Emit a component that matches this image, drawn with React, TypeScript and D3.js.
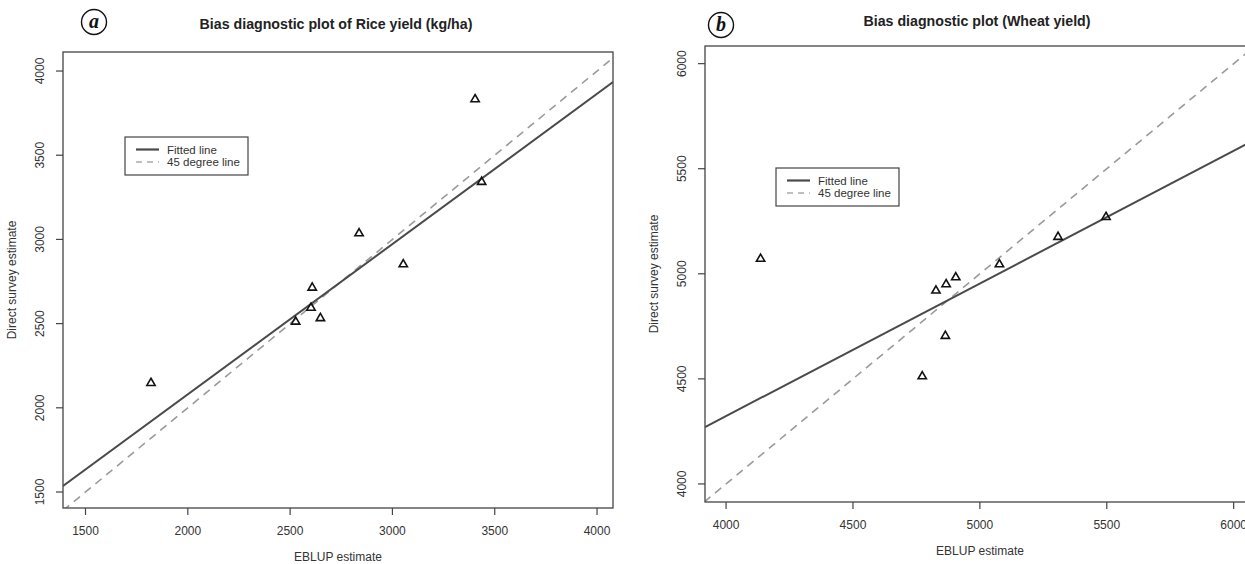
import React from 'react';
import * as d3 from 'd3';

// Rice yield (kg/ha) – EBLUP vs direct survey estimate
const riceEblup = [1820, 2527, 2602, 2608, 2648, 2837, 3053, 3404, 3436];
const riceDirect = [2147, 2511, 2594, 2713, 2532, 3036, 2852, 3832, 3341];
const riceFit = { intercept: 295, slope: 0.8925 };
const riceTicks = [1500, 2000, 2500, 3000, 3500, 4000];

// Wheat yield
const wheatEblup = [4136, 5077, 4905, 4867, 4827, 4864, 4773, 5308, 5497];
const wheatDirect = [5071, 5045, 4983, 4950, 4920, 4704, 4512, 5175, 5270];
const wheatFit = { intercept: 1799, slope: 0.631 };
const wheatTicks = [4000, 4500, 5000, 5500, 6000];

const font = "'Liberation Sans', Arial, sans-serif";

type PanelProps = {
  id: string;
  letter: string;
  title: string;
  xs: number[];
  ys: number[];
  fit: { intercept: number; slope: number };
  ticks: number[];
  xDomain: [number, number];
  yDomain: [number, number];
  box: { left: number; right: number; top: number; bottom: number };
  letterPos: [number, number];
  titleX: number;
  titleY: number;
  legend: [number, number];
};

function Panel(p: PanelProps) {
  const { left, right, top, bottom } = p.box;
  const x = d3.scaleLinear().domain(p.xDomain).range([left, right]);
  const y = d3.scaleLinear().domain(p.yDomain).range([bottom, top]);
  const lineGen = d3
    .line<number>()
    .x((d) => x(d))
    .y((d) => y(p.fit.intercept + p.fit.slope * d));
  const diagGen = d3
    .line<number>()
    .x((d) => x(d))
    .y((d) => y(d));
  const lo = Math.min(p.xDomain[0], p.yDomain[0]);
  const hi = Math.max(p.xDomain[1], p.yDomain[1]);
  const tri = d3.symbol().type(d3.symbolTriangle).size(30)();
  const [lx, ly] = p.legend;

  return (
    <g>
      <defs>
        <clipPath id={'clip-' + p.id}>
          <rect x={left} y={top} width={right - left} height={bottom - top} />
        </clipPath>
      </defs>
      <circle cx={p.letterPos[0]} cy={p.letterPos[1]} r={12.5} fill="none" stroke="#111" strokeWidth={1.4} />
      <text
        x={p.letterPos[0]}
        y={p.letterPos[1] + 6}
        textAnchor="middle"
        fontFamily="'Liberation Serif', 'Times New Roman', serif"
        fontStyle="italic"
        fontWeight="bold"
        fontSize={20}
        fill="#111"
      >
        {p.letter}
      </text>
      <text x={p.titleX} y={p.titleY} textAnchor="middle" fontFamily={font} fontWeight="bold" fontSize={14.2} fill="#222">
        {p.title}
      </text>

      <g clipPath={`url(#clip-${p.id})`}>
        <path d={diagGen([lo, hi]) || ''} fill="none" stroke="#9a9a9a" strokeWidth={1.6} strokeDasharray="8,6" />
        <path d={lineGen([p.xDomain[0], p.xDomain[1]]) || ''} fill="none" stroke="#4a4a4a" strokeWidth={2} />
        {p.xs.map((v, i) => (
          <path key={i} d={tri || ''} transform={`translate(${x(v)},${y(p.ys[i])})`} fill="none" stroke="#111" strokeWidth={1.6} />
        ))}
      </g>

      <rect x={left} y={top} width={right - left} height={bottom - top} fill="none" stroke="#444" strokeWidth={1.3} />

      {p.ticks.map((t) => (
        <g key={'x' + t}>
          <line x1={x(t)} x2={x(t)} y1={bottom} y2={bottom + 7} stroke="#444" strokeWidth={1.2} />
          <text x={x(t)} y={bottom + 27} textAnchor="middle" fontFamily={font} fontSize={12} fill="#333">
            {t}
          </text>
        </g>
      ))}
      {p.ticks.map((t) => (
        <g key={'y' + t}>
          <line x1={left - 7} x2={left} y1={y(t)} y2={y(t)} stroke="#444" strokeWidth={1.2} />
          <text
            transform={`translate(${left - 19},${y(t)}) rotate(-90)`}
            textAnchor="middle"
            fontFamily={font}
            fontSize={12}
            fill="#333"
          >
            {t}
          </text>
        </g>
      ))}
      <text x={(left + Math.min(right, 1245)) / 2 + (right > 1245 ? 5 : 0)} y={bottom + 53} textAnchor="middle" fontFamily={font} fontSize={12} fill="#333">
        EBLUP estimate
      </text>
      <text
        transform={`translate(${left - 47},${(top + bottom) / 2}) rotate(-90)`}
        textAnchor="middle"
        fontFamily={font}
        fontSize={12}
        fill="#333"
      >
        Direct survey estimate
      </text>

      <rect x={lx} y={ly} width={123} height={38} fill="#fff" stroke="#444" strokeWidth={1.2} />
      <line x1={lx + 11} x2={lx + 34} y1={ly + 12.5} y2={ly + 12.5} stroke="#4a4a4a" strokeWidth={2.2} />
      <line x1={lx + 11} x2={lx + 34} y1={ly + 25} y2={ly + 25} stroke="#aaa" strokeWidth={1.4} strokeDasharray="6,5" />
      <text x={lx + 42} y={ly + 16.5} fontFamily={font} fontSize={11.5} fill="#333">
        Fitted line
      </text>
      <text x={lx + 42} y={ly + 29} fontFamily={font} fontSize={11.5} fill="#333">
        45 degree line
      </text>
    </g>
  );
}

export default function App() {
  return (
    <svg
      width={1245}
      height={564}
      style={{ position: 'absolute', left: 0, top: 0, background: '#fff' }}
    >
      <rect width={1245} height={564} fill="#fff" />
      <Panel
        id="a"
        letter="a"
        title="Bias diagnostic plot of Rice yield (kg/ha)"
        xs={riceEblup}
        ys={riceDirect}
        fit={riceFit}
        ticks={riceTicks}
        xDomain={[1390, 4078]}
        yDomain={[1405, 4113]}
        box={{ left: 63, right: 613, top: 52, bottom: 508 }}
        letterPos={[94, 22]}
        titleX={336}
        titleY={29}
        legend={[125, 137]}
      />
      <Panel
        id="b"
        letter="b"
        title="Bias diagnostic plot (Wheat yield)"
        xs={wheatEblup}
        ys={wheatDirect}
        fit={wheatFit}
        ticks={wheatTicks}
        xDomain={[3917, 6084]}
        yDomain={[3914, 6084]}
        box={{ left: 705, right: 1255, top: 46, bottom: 502 }}
        letterPos={[721, 25]}
        titleX={977}
        titleY={26}
        legend={[776, 168]}
      />
    </svg>
  );
}
